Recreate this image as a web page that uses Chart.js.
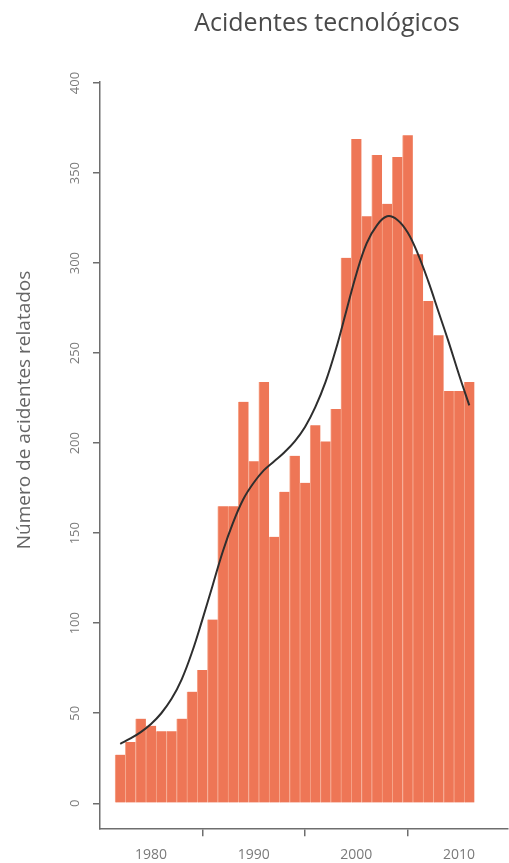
<!DOCTYPE html>
<html>
<head>
<meta charset="utf-8">
<title>Acidentes tecnológicos</title>
<script src="https://cdn.jsdelivr.net/npm/chart.js@4.4.1/dist/chart.umd.min.js"></script>
<style>
    html, body { margin: 0; padding: 0; background: #fff; }
    #wrap { position: relative; width: 509px; height: 863px; }
</style>
</head>
<body>
<div id="wrap"><canvas id="chart"></canvas></div>
<script>
// values
const years = [1977, 1978, 1979, 1980, 1981, 1982, 1983, 1984, 1985, 1986,
               1987, 1988, 1989, 1990, 1991, 1992, 1993, 1994, 1995, 1996,
               1997, 1998, 1999, 2000, 2001, 2002, 2003, 2004, 2005, 2006,
               2007, 2008, 2009, 2010, 2011];
const accidents = [27, 34, 47, 43, 40, 40, 47, 62, 74, 102,
                   165, 165, 223, 190, 234, 148, 173, 193, 178, 210,
                   201, 219, 303, 369, 326, 360, 333, 359, 371, 305,
                   279, 260, 229, 229, 234];
// smoothed trend line
const smoothed = [33, 36, 39.5, 44, 50, 58, 69, 84, 102, 121,
                  140, 156, 169, 178, 185, 190, 195, 201, 209, 220,
                  234, 252, 273, 294, 311, 321, 326, 324, 317, 305,
                  290, 273, 256, 238, 221];
const xTickLabels = [1980, 1990, 2000, 2010];
const yTickLabels = [0, 50, 100, 150, 200, 250, 300, 350, 400];

const chartTitle = 'Acidentes tecnológicos';
const yAxisTitle = 'Número de acidentes relatados';

const axisColor = '#6e6e6e';
const labelColor = '#7a7a7a';

// rotated y labels and titles, drawn the way R draws them
const textPlugin = {
    id: 'rText',
    afterDraw(chart) {
        const ctx = chart.ctx;
        const yScale = chart.scales.y;
        ctx.save();
        ctx.textAlign = 'center';
        ctx.textBaseline = 'middle';

        ctx.fillStyle = '#4a4a4a';
        ctx.font = '25px "Open Sans"';
        ctx.fillText(chartTitle, 327, 24);

        ctx.fillStyle = labelColor;
        ctx.font = '13px "Open Sans"';
        yTickLabels.forEach(v => {
            ctx.save();
            ctx.translate(75, yScale.getPixelForValue(v));
            ctx.rotate(-Math.PI / 2);
            ctx.fillText(String(v), 0, 0);
            ctx.restore();
        });

        ctx.fillStyle = '#666';
        ctx.font = '19px "Open Sans"';
        ctx.translate(25, 410);
        ctx.rotate(-Math.PI / 2);
        ctx.fillText(yAxisTitle, 0, 0);
        ctx.restore();
    }
};

new Chart(document.getElementById('chart'), {
    type: 'bar',
    data: {
        datasets: [
            {
                type: 'line',
                data: years.map((yr, i) => ({ x: yr, y: smoothed[i] })),
                borderColor: '#2e2e2e',
                borderWidth: 2,
                pointRadius: 0,
                tension: 0.4,
                order: 0
            },
            {
                type: 'bar',
                data: years.map((yr, i) => ({ x: yr, y: accidents[i] })),
                backgroundColor: '#ee7656',
                borderColor: '#f6a68b',
                borderWidth: { left: 1, right: 0, top: 0, bottom: 0 },
                borderSkipped: false,
                barPercentage: 1,
                categoryPercentage: 1,
                order: 1
            }
        ]
    },
    options: {
        responsive: true,
        maintainAspectRatio: false,
        animation: false,
        layout: { padding: { left: 93, right: 1, top: 82, bottom: -10 } },
        plugins: {
            legend: { display: false },
            tooltip: { enabled: false }
        },
        scales: {
            x: {
                type: 'linear',
                min: 1975.03,
                max: 2014.77,
                offset: false,
                afterBuildTicks: scale => {
                    scale.ticks = xTickLabels.map(v => ({ value: v }));
                },
                grid: { drawOnChartArea: false, drawTicks: true, tickLength: 7, color: axisColor, lineWidth: 1.5 },
                border: { display: true, color: axisColor, width: 1.5 },
                ticks: {
                    color: labelColor,
                    font: { family: 'Open Sans', size: 14 },
                    padding: 10,
                    maxRotation: 0,
                    callback: v => String(v)
                }
            },
            y: {
                type: 'linear',
                min: -14.4,
                max: 400.6,
                afterBuildTicks: scale => {
                    scale.ticks = yTickLabels.map(v => ({ value: v }));
                },
                grid: { drawOnChartArea: false, drawTicks: true, tickLength: 7, color: axisColor, lineWidth: 1.5 },
                border: { display: true, color: axisColor, width: 1.5 },
                ticks: { display: false }
            }
        }
    },
    plugins: [textPlugin]
});
</script>
</body>
</html>
